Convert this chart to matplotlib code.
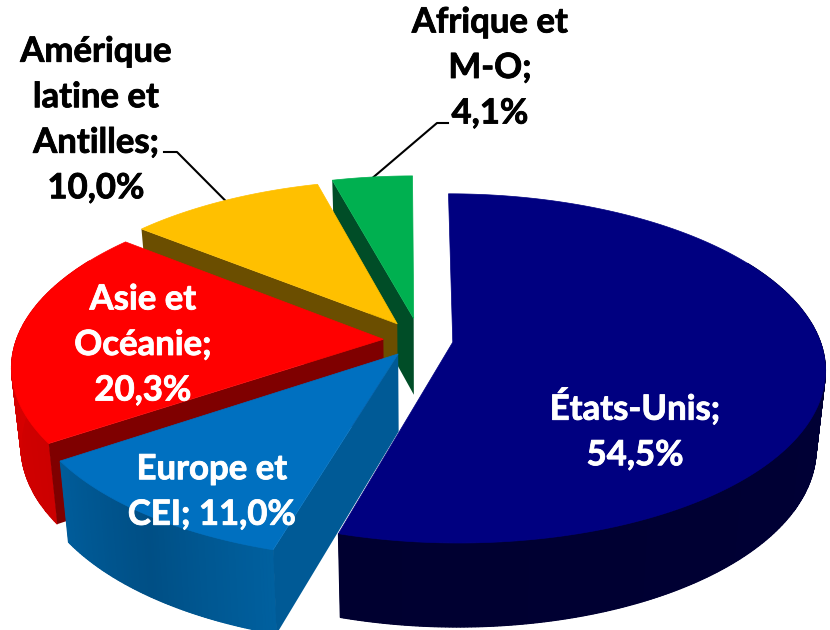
import numpy as np
import matplotlib
matplotlib.use("Agg")
import matplotlib.pyplot as plt
import matplotlib.patheffects as pe

categories = ["États-Unis", "Europe et CEI", "Asie et Océanie", "Amérique latine et Antilles", "Afrique et M-O"]
shares = [54.5, 11.0, 20.3, 10.0, 4.1]
share_labels = ["54,5%", "11,0%", "20,3%", "10,0%", "4,1%"]

top_colors = ["#000080", "#0070C0", "#FF0000", "#FFC000", "#00B050"]
wall_stops = [["#000038", "#000030"], ["#00609f", "#004f85", "#005c9a"],
              ["#cc0000", "#e00000"], ["#6b4e00", "#6b4e00"], ["#004d27", "#004d27"]]
cut_colors = [None, "#005a96", "#7f0000", "#6b4e00", "#004d27"]
explode = [0.09, 0.10, 0.10, 0.115, 0.13]

OX, OY, R, K, P = 420.0, 340.0, 367.0, 170.0, 0.15


def proj(wx, wy):
    s = 1.0 / (1.0 - P * wy)
    return OX + R * wx * s, OY + K * wy * s


def drop(x, y):
    return OX + (x - OX) * 0.977, y + 77 + 0.035 * (y - 340)


def hex2rgb(h):
    return np.array(matplotlib.colors.to_rgb(h))


fig = plt.figure(figsize=(8.3, 6.3), dpi=100)
ax = fig.add_axes([0, 0, 1, 1])
ax.set_xlim(0, 830)
ax.set_ylim(630, 0)
ax.axis("off")

edges = np.concatenate([[0], np.cumsum(shares) / 100.0 * 360.0])
geo = []
for i in range(len(shares)):
    a0, a1 = np.radians(edges[i]), np.radians(edges[i + 1])
    mid = (a0 + a1) / 2
    ex, ey = explode[i] * np.sin(mid), -explode[i] * np.cos(mid)
    ang = np.linspace(a0, a1, max(int(np.degrees(a1 - a0)), 8) * 2)
    rx, ry = proj(ex + np.sin(ang), ey - np.cos(ang))
    ax_, ay_ = proj(ex, ey)
    geo.append((ang, rx, ry, ax_, ay_))

# back-to-front painting order
for z, i in enumerate([4, 3, 2, 1, 0]):
    ang, rx, ry, apx, apy = geo[i]
    zo = 2 + z * 3
    bx, by = drop(rx, ry)
    abx, aby = drop(apx, apy)
    # outer wall on the front part of the rim, shaded along the rim
    deg = np.degrees(ang)
    vis = np.where((deg > 60) & (deg < 300))[0]
    if len(vis) > 1:
        stops = [hex2rgb(c) for c in wall_stops[i]]
        pos = np.linspace(0, 1, len(stops))
        ax.fill(np.r_[rx[vis], bx[vis][::-1]], np.r_[ry[vis], by[vis][::-1]],
                color=stops[0] * 0.5 + stops[-1] * 0.5, lw=0, zorder=zo)
        for n in range(len(vis) - 1):
            j = vis[n]
            t = n / max(len(vis) - 2, 1)
            col = [np.interp(t, pos, [s[c] for s in stops]) for c in range(3)]
            ax.fill([rx[j], rx[j + 1], bx[j + 1], bx[j]], [ry[j], ry[j + 1], by[j + 1], by[j]],
                    color=col, lw=0.8, zorder=zo)
    # cut face along the first edge of the slice
    if cut_colors[i] is not None:
        ax.fill([apx, rx[0], bx[0], abx], [apy, ry[0], by[0], aby], color=cut_colors[i], lw=0, zorder=zo + 1)
    # top face
    ax.fill(np.r_[apx, rx], np.r_[apy, ry], color=top_colors[i], lw=0.5, zorder=zo + 2)

FONT = dict(family="Lato", fontweight="bold", fontsize=25, ha="center", va="center", linespacing=1.52)
HALO_W = [pe.withStroke(linewidth=0.6, foreground="white")]
HALO_K = [pe.withStroke(linewidth=0.6, foreground="black")]
ax.text(635, 430, "États-Unis;\n" + share_labels[0], color="white", zorder=30, path_effects=HALO_W, **FONT)
ax.text(212, 492, "Europe et\nCEI; " + share_labels[1], color="white", zorder=30, path_effects=HALO_W, **FONT)
ax.text(143, 345, "Asie et\nOcéanie;\n" + share_labels[2], color="white", zorder=30, path_effects=HALO_W, **FONT)
ax.text(96, 120, "Amérique\nlatine et\nAntilles;\n" + share_labels[3], color="black", zorder=30, path_effects=HALO_K, **FONT)
ax.text(490, 68, "Afrique et\nM-O;\n" + share_labels[4], color="black", zorder=30, path_effects=HALO_K, **FONT)

ax.plot([164, 177, geo[3][1][len(geo[3][1]) // 2]], [152, 152, geo[3][2][len(geo[3][2]) // 2]],
        color="black", lw=1.5, zorder=1)
ax.plot([448, 437, geo[4][1][len(geo[4][1]) // 2]], [123, 123, geo[4][2][len(geo[4][2]) // 2]],
        color="black", lw=1.5, zorder=1)

fig.savefig("out.png", dpi=100)
